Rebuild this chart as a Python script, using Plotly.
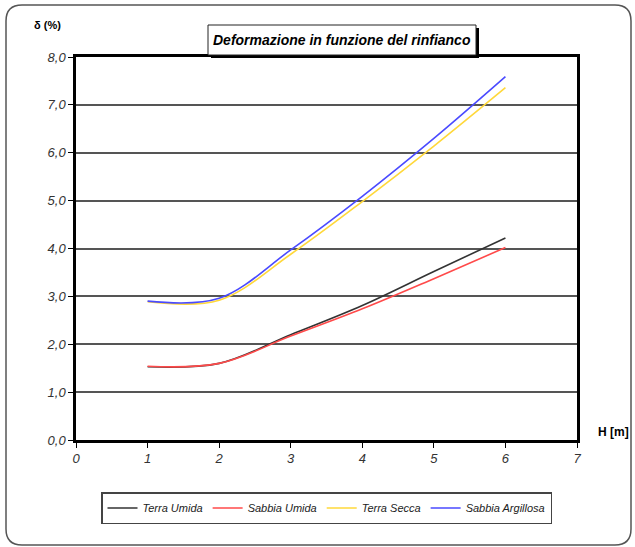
import plotly.graph_objects as go

# ---- data ----
h_m = [1, 2, 3, 4, 5, 6]
terra_umida = [1.53, 1.60, 2.20, 2.81, 3.52, 4.22]
sabbia_umida = [1.54, 1.60, 2.17, 2.74, 3.37, 4.02]
terra_secca = [2.89, 2.92, 3.88, 4.98, 6.14, 7.36]
sabbia_argillosa = [2.90, 2.96, 3.97, 5.09, 6.30, 7.59]

series_names = ["Terra Umida", "Sabbia Umida", "Terra Secca", "Sabbia Argillosa"]
series_values = [terra_umida, sabbia_umida, terra_secca, sabbia_argillosa]
series_colors = ["#333333", "#ff4a4a", "#ffd83a", "#4a4aff"]

x_ticks = [0, 1, 2, 3, 4, 5, 6, 7]
y_ticks = [0, 1, 2, 3, 4, 5, 6, 7, 8]

title_text = "Deformazione in funzione del rinfianco"
y_title = "δ (%)"
x_title = "H [m]"

# ---- layout geometry (pixels) ----
W, H = 635, 547
L, R, T, B = 76, 58, 57, 107
PW, PH = W - L - R, H - T - B


def px(x):
    return (x - L) / PW


def py(y):
    return (H - B - y) / PH


FONT = "Liberation Sans Narrow, Arial Narrow, Liberation Sans, Arial"

fig = go.Figure()
for name, vals, col in zip(series_names, series_values, series_colors):
    fig.add_trace(go.Scatter(
        x=h_m, y=vals, name=name, mode="lines",
        line=dict(color=col, width=1.6, shape="spline", smoothing=1.0),
    ))

shapes = []
# outer rounded frame
x0, x1, y0, y1, r = 6, 631, 5, 545, 16
rx = r / PW
ry = r / PH
path = (
    f"M {px(x0)+rx},{py(y0)} L {px(x1)-rx},{py(y0)} "
    f"Q {px(x1)},{py(y0)} {px(x1)},{py(y0)-ry} "
    f"L {px(x1)},{py(y1)+ry} Q {px(x1)},{py(y1)} {px(x1)-rx},{py(y1)} "
    f"L {px(x0)+rx},{py(y1)} Q {px(x0)},{py(y1)} {px(x0)},{py(y1)+ry} "
    f"L {px(x0)},{py(y0)-ry} Q {px(x0)},{py(y0)} {px(x0)+rx},{py(y0)} Z"
)
shapes.append(dict(type="path", xref="paper", yref="paper", path=path,
                   line=dict(color="#555555", width=1.5), layer="below"))
# title box shadow + box
shapes.append(dict(type="rect", xref="paper", yref="paper",
                   x0=px(211), x1=px(479), y0=py(28), y1=py(58),
                   fillcolor="black", line=dict(width=0)))
shapes.append(dict(type="rect", xref="paper", yref="paper",
                   x0=px(208), x1=px(476), y0=py(25), y1=py(55),
                   fillcolor="white", line=dict(color="#222222", width=1)))

annotations = [
    dict(text=f"<b><i>{title_text}</i></b>", xref="paper", yref="paper",
         x=px(342), y=py(40), showarrow=False, xanchor="center", yanchor="middle",
         font=dict(family="Liberation Sans, Arial", size=14, color="black")),
    dict(text=f"<b>{y_title}</b>", xref="paper", yref="paper",
         x=px(47), y=py(25), showarrow=False, xanchor="center", yanchor="middle",
         font=dict(family=FONT, size=11, color="black")),
    dict(text=f"<b>{x_title}</b>", xref="paper", yref="paper",
         x=px(613), y=py(432), showarrow=False, xanchor="center", yanchor="middle",
         font=dict(family=FONT, size=12, color="black")),
]

fig.update_layout(
    width=W, height=H,
    margin=dict(l=L, r=R, t=T, b=B, pad=0),
    paper_bgcolor="white", plot_bgcolor="white",
    separators=",.",
    showlegend=True,
    legend=dict(orientation="h", x=0.5, xanchor="center", y=py(492), yanchor="top",
                bgcolor="white", bordercolor="#444444", borderwidth=1.5,
                font=dict(family=FONT, size=11, color="#222222", style="italic"),
                itemwidth=30, tracegroupgap=0),
    shapes=shapes,
    annotations=annotations,
)

fig.update_xaxes(
    range=[0, 7], tickvals=x_ticks, ticktext=[str(v) for v in x_ticks],
    showgrid=False, zeroline=False,
    showline=True, linecolor="black", linewidth=2.5, mirror=True,
    ticks="outside", ticklen=5, tickcolor="black", tickwidth=1,
    tickfont=dict(family=FONT, size=13, color="#333333", style="italic"),
)
fig.update_yaxes(
    range=[0, 8], tickvals=y_ticks, tickformat=".1f",
    showgrid=True, gridcolor="#555555", gridwidth=1.5, zeroline=False,
    showline=True, linecolor="black", linewidth=2.5, mirror=True,
    ticks="outside", ticklen=5, tickcolor="black", tickwidth=1,
    tickfont=dict(family=FONT, size=13, color="#333333", style="italic"),
)

fig.write_html("out.html", config={"displayModeBar": False},
               post_script="document.body.style.margin='0';document.body.style.overflow='hidden';")
